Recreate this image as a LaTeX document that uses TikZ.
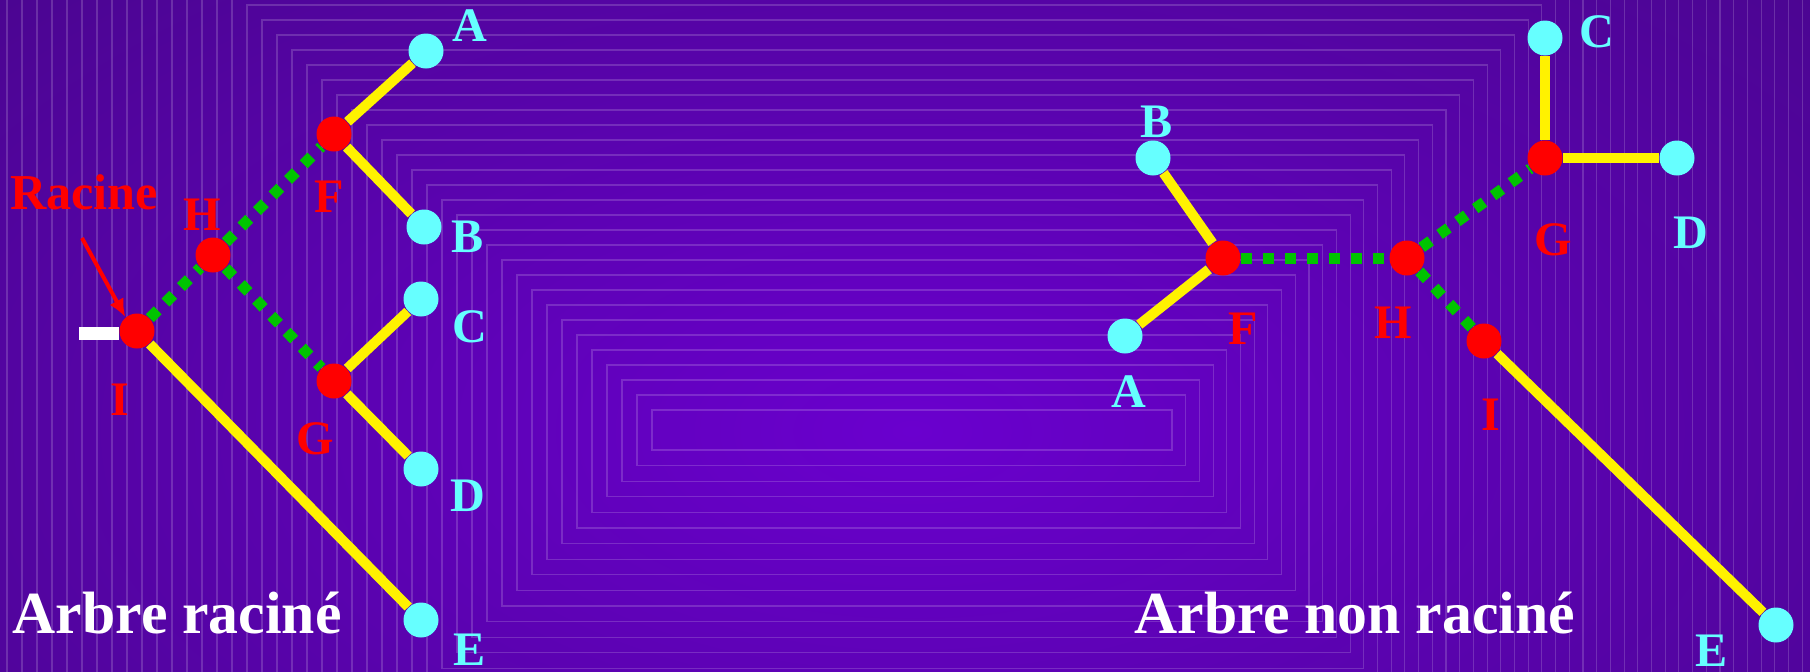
\documentclass[tikz,border=0pt]{standalone}
\usepackage{fontspec}
\setmainfont{Liberation Serif}
\usetikzlibrary{positioning,arrows.meta}

\definecolor{fondout}{HTML}{3A0870}
\definecolor{fondin}{HTML}{6A00CE}
\definecolor{feuille}{HTML}{66FFFF}
\definecolor{vert}{HTML}{00C400}

\begin{document}
\begin{tikzpicture}[x=0.1mm,y=0.1mm,
  leaf/.style={circle,fill=feuille,minimum size=3.5mm,inner sep=0pt},
  knot/.style={circle,fill=red,minimum size=3.5mm,inner sep=0pt},
  branch/.style={yellow,line width=1mm},
  hidden/.style={vert,line width=1.1mm,dash pattern=on 1.1mm off 1.1mm},
  tag/.style={inner sep=0pt,font=\fontsize{13.7}{15}\selectfont\bfseries},
  title/.style={inner sep=0pt,anchor=base west,white,font=\fontsize{17}{20}\selectfont\bfseries}]

\useasboundingbox (0,0) rectangle (1810,671);

% fond: degrade et cadres emboites
\begin{scope}
\clip (0,0) rectangle (1810,671);
\fill[fondout] (0,0) rectangle (1810,671);
\shade[inner color=fondin,outer color=fondout] (912,240) ellipse [x radius=1900,y radius=1000];
\foreach \k in {0,...,47}
  \draw[white,opacity=0.17,line width=0.3pt]
    (652-15*\k,221-15.6*\k) rectangle (1172+13.7*\k,261+15*\k);
\end{scope}

% arbre racine
\node[leaf] (rA) at (426,620) {};
\node[leaf] (rB) at (424,444) {};
\node[leaf] (rC) at (421,372) {};
\node[leaf] (rD) at (421,202) {};
\node[leaf] (rE) at (421,51) {};
\node[knot] (rF) at (334,537) {};
\node[knot] (rG) at (334,290) {};
\node[knot] (rH) at (213,416) {};
\node[knot] (rI) at (137,340) {};
\coordinate (rstub) at (79,338);
\coordinate (rootarrow) at (82,433);

\draw[white,line width=1.3mm] (rstub) -- (rI.west |- rstub);
\draw[branch] (rI) -- (rE);
\draw[hidden] (rI) -- (rH);
\draw[hidden] (rH) -- (rF);
\draw[hidden] (rH) -- (rG);
\draw[branch] (rF) -- (rA);
\draw[branch] (rF) -- (rB);
\draw[branch] (rG) -- (rC);
\draw[branch] (rG) -- (rD);

\node[tag,feuille] (trA) at (470,645) {A};
\node[tag,feuille] (trB) at (468,434) {B};
\node[tag,feuille] (trC) at (470,344) {C};
\node[tag,feuille] (trD) at (468,175) {D};
\node[tag,feuille] (trE) at (470,21) {E};
\node[tag,red] (trF) at (329,474) {F};
\node[tag,red] (trG) at (315,232) {G};
\node[tag,red] (trH) at (202,456) {H};
\node[tag,red] (trI) at (120,271) {I};

\node[tag,red,font=\fontsize{14.3}{16}\selectfont\bfseries] (racine) at (84,479) {Racine};
\draw[red,line width=0.4mm,-{Latex[length=1.8mm,width=1.6mm]}] (rootarrow) -- (rI.130);

\node[title] (rtitle) at (12,38) {Arbre raciné};

% arbre non racine
\node[leaf] (uA) at (1125,335) {};
\node[leaf] (uB) at (1153,513) {};
\node[leaf] (uC) at (1545,633) {};
\node[leaf] (uD) at (1677,513) {};
\node[leaf] (uE) at (1776,46) {};
\node[knot] (uF) at (1223,413) {};
\node[knot] (uG) at (1545,513) {};
\node[knot] (uH) at (1407,413) {};
\node[knot] (uI) at (1484,330) {};

\draw[branch] (uF) -- (uA);
\draw[branch] (uF) -- (uB);
\draw[hidden] (uF) -- (uH);
\draw[hidden] (uH) -- (uG);
\draw[hidden] (uH) -- (uI);
\draw[branch] (uG) -- (uC);
\draw[branch] (uG) -- (uD);
\draw[branch] (uI) -- (uE);

\node[tag,feuille] (tuA) at (1129,279) {A};
\node[tag,feuille] (tuB) at (1157,549) {B};
\node[tag,feuille] (tuC) at (1597,639) {C};
\node[tag,feuille] (tuD) at (1691,438) {D};
\node[tag,feuille] (tuE) at (1712,20) {E};
\node[tag,red] (tuF) at (1243,342) {F};
\node[tag,red] (tuG) at (1553,431) {G};
\node[tag,red] (tuH) at (1393,348) {H};
\node[tag,red] (tuI) at (1491,256) {I};

\node[title] (utitle) at (1134,38) {Arbre non raciné};
\end{tikzpicture}
\end{document}
